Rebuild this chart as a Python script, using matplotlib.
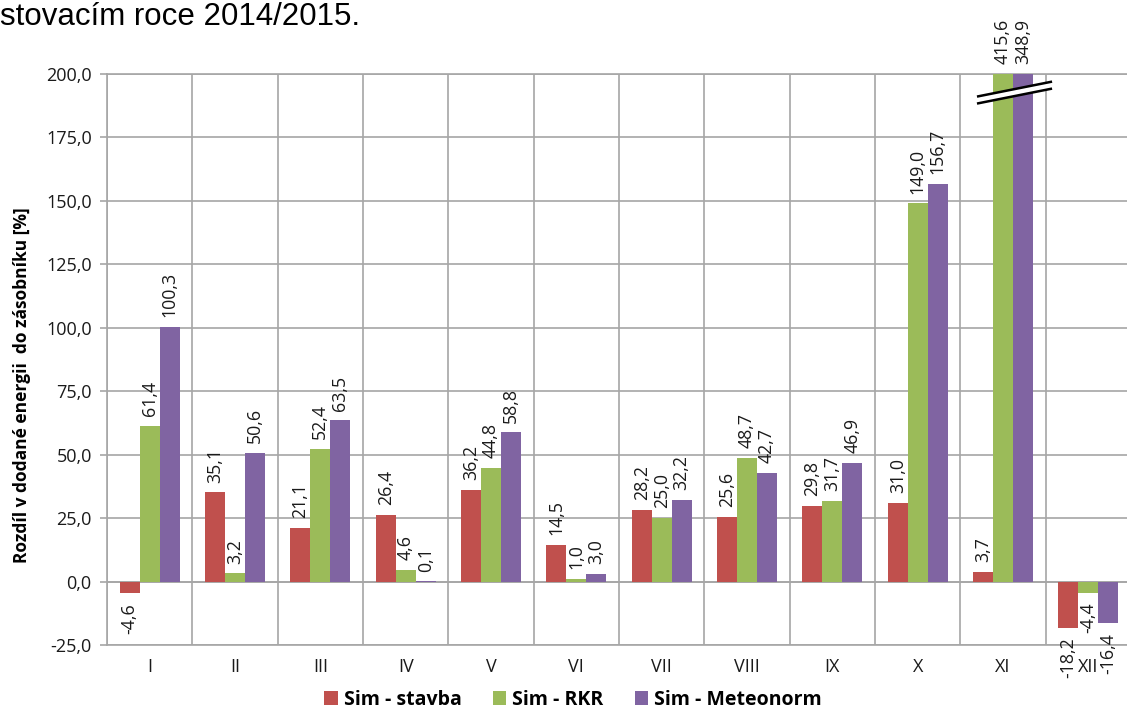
import matplotlib
matplotlib.use("Agg")
import matplotlib.pyplot as plt
from matplotlib.patches import Patch, Polygon
import numpy as np

categories = ["I", "II", "III", "IV", "V", "VI", "VII", "VIII", "IX", "X", "XI", "XII"]
series_names = ["Sim - stavba", "Sim - RKR", "Sim - Meteonorm"]
stavba = [-4.6, 35.1, 21.1, 26.4, 36.2, 14.5, 28.2, 25.6, 29.8, 31.0, 3.7, -18.2]
rkr = [61.4, 3.2, 52.4, 4.6, 44.8, 1.0, 25.0, 48.7, 31.7, 149.0, 415.6, -4.4]
meteonorm = [100.3, 50.6, 63.5, 0.1, 58.8, 3.0, 32.2, 42.7, 46.9, 156.7, 348.9, -16.4]
colors = ["#C0504D", "#9BBB59", "#8064A2"]
yticks = [-25, 0, 25, 50, 75, 100, 125, 150, 175, 200]
title_text = "stovacím roce 2014/2015."
ylabel_text = "Rozdíl v dodané energii  do zásobníku [%]"

FONT = ["Open Sans", "DejaVu Sans"]
plt.rcParams["font.family"] = FONT

W, H = 1127, 709
fig = plt.figure(figsize=(W / 100, H / 100), dpi=100)
ax = fig.add_axes([107 / W, 1 - 645 / H, 1024 / W, (645 - 74) / H])

ymin, ymax = -25, 200
ax.set_xlim(-0.5, len(categories) - 0.5)
ax.set_ylim(ymin, ymax)

x = np.arange(len(categories))
bw = 0.234
data = [stavba, rkr, meteonorm]
grid_c = "#A6A6A6"
lab_fs = 12.8

for k, (vals, c) in enumerate(zip(data, colors)):
    xs = x + (k - 1) * bw
    ax.bar(xs, vals, width=bw, color=c, zorder=3, linewidth=0)
    for xi, v in zip(xs, vals):
        txt = f"{v:.1f}".replace(".", ",")
        if v >= 0:
            yv = min(v, ymax)
            ax.annotate(txt, (xi, yv), xytext=(0, 7), textcoords="offset points",
                        rotation=90, ha="center", va="bottom", fontsize=lab_fs,
                        color="#1a1a1a", annotation_clip=False, zorder=5)
        else:
            ax.annotate(txt, (xi, v), xytext=(0, -7), textcoords="offset points",
                        rotation=90, ha="center", va="top", fontsize=lab_fs,
                        color="#1a1a1a", annotation_clip=False, zorder=5)

# axis break marker on the clipped category (XI)
ci = 10
bx0, bx1 = ci - 0.305, ci + 0.575
d = 2.75
l1 = ((bx0, ymax - 8.9), (bx1, ymax - 3.0))
l2 = ((bx0, ymax - 8.9 - d), (bx1, ymax - 3.0 - d))
poly = Polygon([l1[0], l1[1], l2[1], l2[0]], closed=True, facecolor="white",
               edgecolor="none", zorder=6)
ax.add_patch(poly)
for ln in (l1, l2):
    ax.plot([ln[0][0], ln[1][0]], [ln[0][1], ln[1][1]], color="black", lw=1.8,
            zorder=7, solid_capstyle="butt")

ax.set_yticks(yticks)
ax.set_yticklabels([f"{t:.1f}".replace(".", ",") for t in yticks], fontsize=13, color="#1a1a1a")
ax.set_xticks(x)
ax.set_xticklabels(categories, fontsize=13, color="#1a1a1a")
ax.set_xticks(np.arange(-0.5, len(categories), 1.0), minor=True)
ax.tick_params(axis="x", which="both", length=0, pad=9)
ax.tick_params(axis="y", length=5, color=grid_c, width=1.2, pad=6)

ax.grid(axis="y", which="major", color=grid_c, lw=1.2, zorder=0)
ax.grid(axis="x", which="minor", color=grid_c, lw=1.2, zorder=0)
ax.grid(axis="x", which="major", visible=False)
for s in ["left", "bottom", "top"]:
    ax.spines[s].set_color(grid_c)
    ax.spines[s].set_linewidth(1.2)
ax.spines["right"].set_visible(False)
ax.axhline(0, color=grid_c, lw=1.2, zorder=1)

fig.text(0.0, 1 - 25 / H, title_text, fontsize=22.5, family=["Liberation Sans", "DejaVu Sans"],
         ha="left", va="baseline", color="black")
fig.text(22 / W, 1 - 385 / H, ylabel_text, rotation=90, fontsize=12.5, fontweight="bold",
         ha="center", va="center", color="black")

handles = [Patch(facecolor=c, edgecolor="none") for c in colors]
leg = fig.legend(handles, series_names, loc="center", bbox_to_anchor=(573 / W, 1 - 700 / H),
                 ncol=3, frameon=False, handlelength=0.7, handleheight=0.7,
                 handletextpad=0.3, columnspacing=1.6,
                 prop={"family": FONT, "weight": "bold", "size": 14})

fig.savefig("out.png", dpi=100)
